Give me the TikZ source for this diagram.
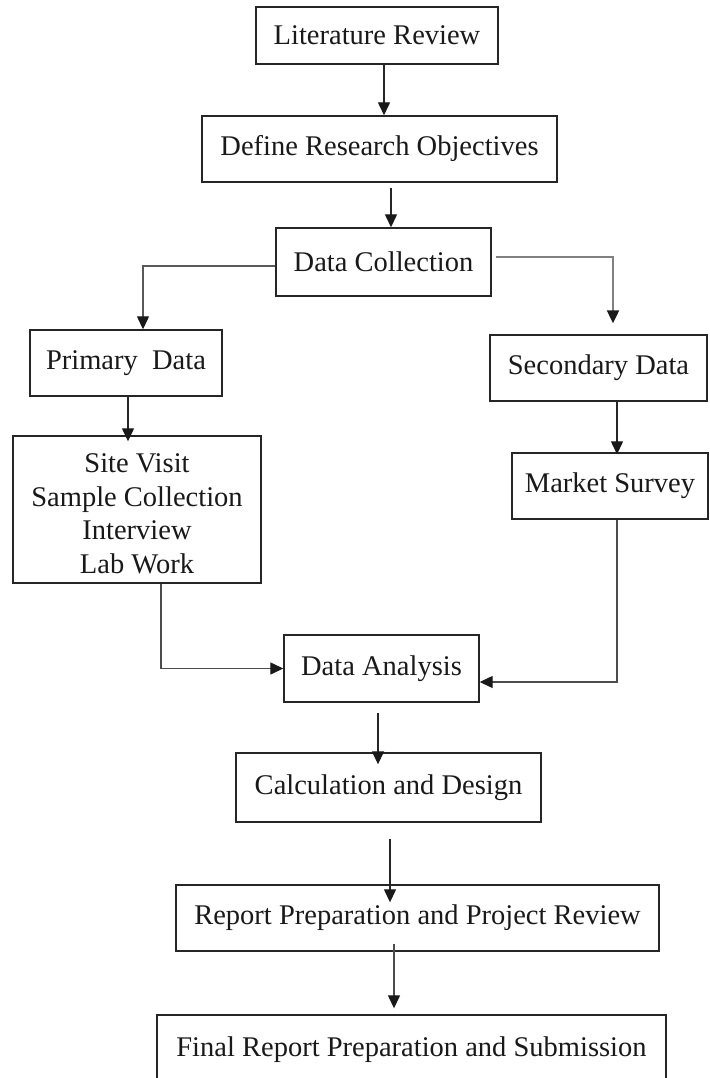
\documentclass[tikz,border=0pt]{standalone}
\usepackage{fontspec}
\setmainfont{Liberation Serif}
\usetikzlibrary{arrows.meta}
\tikzset{
  box/.style={draw=black!85, line width=1.4pt, inner sep=0pt, align=center,
    font=\fontsize{28.5}{33.5}\selectfont, text=black!90},
  arr/.style={draw=black!85, line width=1.3pt, -{Triangle[width=12pt,length=13pt,color=black!90]}},
  garr/.style={arr, draw=black!50, line width=2.2pt},
}
\begin{document}
\begin{tikzpicture}[x=1pt,y=-1pt]
\useasboundingbox (0,0) rectangle (709,1078);
\clip (0,0) rectangle (709,1078);
\fill[white] (0,0) rectangle (709,1078);
\node[box, minimum width=242pt, minimum height=57pt] (lr) at (377,35.5) {Literature Review};
\node[box, minimum width=355pt, minimum height=66pt] (dro) at (379.5,149) {Define Research Objectives};
\node[box, minimum width=215pt, minimum height=68pt] (dc) at (383.5,262) {Data Collection};
\node[box, minimum width=192pt, minimum height=66pt] (pd) at (126,363) {Primary\ \ Data};
\node[box, minimum width=217pt, minimum height=66pt] (sd) at (598.5,368) {Secondary Data};
\node[box, minimum width=248pt, minimum height=147pt] (site) at (137,509.5) {\raisebox{-7pt}[\height][\depth]{\begin{tabular}{@{}c@{}}Site Visit\\Sample Collection\\Interview\\Lab Work\end{tabular}}};
\node[box, minimum width=196pt, minimum height=66pt] (ms) at (610,486) {Market Survey};
\node[box, minimum width=195pt, minimum height=67pt] (da) at (381.5,668.5) {Data Analysis};
\node[box, minimum width=305pt, minimum height=69pt] (calc) at (388.5,787.5) {Calculation and Design};
\node[box, minimum width=483pt, minimum height=66pt] (rep) at (417.5,918) {Report Preparation and Project Review};
\node[box, minimum width=509pt, minimum height=70pt] (fin) at (411.5,1050) {Final Report Preparation and Submission};

\draw[arr] ([xshift=7pt]lr.south) -- ([xshift=4.5pt]dro.north);
\draw[arr, shorten <=5pt] ([xshift=11.5pt]dro.south) -- ([xshift=7.5pt]dc.north);
\draw[arr, draw=black!65] ([yshift=-4pt]dc.west) -| ([xshift=17pt]pd.north);
\draw[garr, shorten <=4pt, shorten >=11pt] ([yshift=5pt]dc.east) -| ([xshift=14.5pt]sd.north);
\draw[arr, shorten >=-6pt] ([xshift=2pt]pd.south) -- ([xshift=-9pt]site.north);
\draw[arr, shorten >=-2pt] ([xshift=18.5pt]sd.south) -- ([xshift=7pt]ms.north);
\draw[arr, draw=black!70] ([xshift=24pt]site.south) |- (da.west);
\draw[arr, draw=black!70] ([xshift=7pt]ms.south) |- ([yshift=-13.5pt]da.east);
\draw[arr, shorten <=10pt, shorten >=-12pt] ([xshift=-3.5pt]da.south) -- ([xshift=-10.5pt]calc.north);
\draw[arr, shorten <=16pt, shorten >=-18pt] ([xshift=1.5pt]calc.south) -- ([xshift=-27.5pt]rep.north);
\draw[arr, draw=black!70, shorten <=-8pt, shorten >=6pt] ([xshift=-23.5pt]rep.south) -- ([xshift=-17.5pt]fin.north);
\end{tikzpicture}
\end{document}
